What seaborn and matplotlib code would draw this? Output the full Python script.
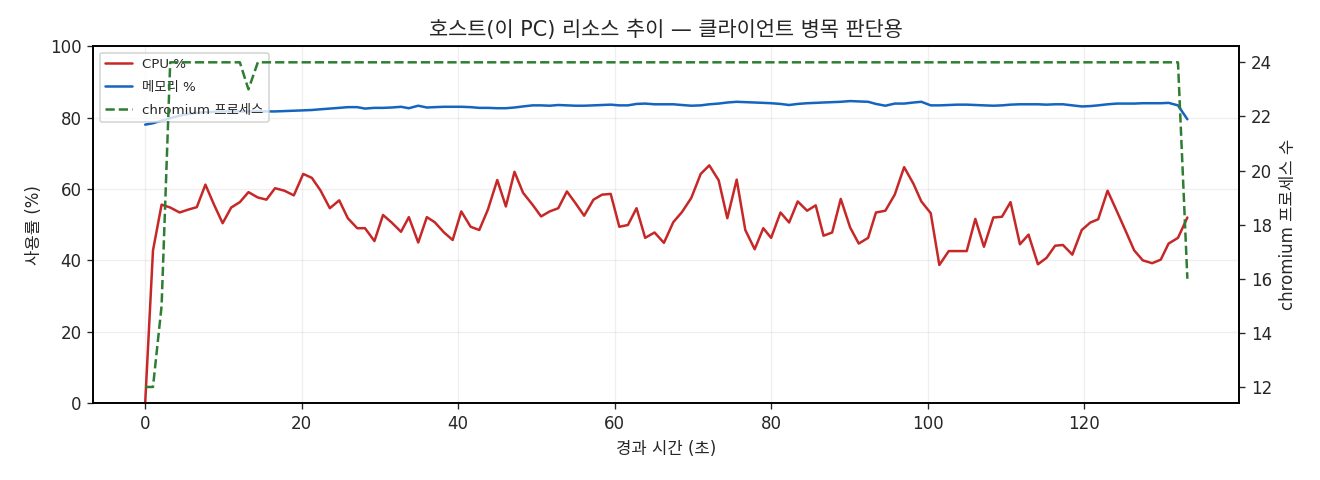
import matplotlib
matplotlib.use("Agg")
import matplotlib.pyplot as plt
import seaborn as sns
import pandas as pd

# elapsed seconds of each sample
elapsed = [
    0.0, 1.0, 2.1, 3.2, 4.4, 5.5, 6.6, 7.7, 8.8, 9.9,
    11.0, 12.1, 13.2, 14.4, 15.5, 16.6, 17.8, 19.0, 20.2, 21.3,
    22.4, 23.6, 24.8, 25.9, 27.1, 28.1, 29.3, 30.4, 31.5, 32.7,
    33.7, 34.9, 36.0, 37.0, 38.2, 39.3, 40.4, 41.6, 42.7, 43.8,
    45.0, 46.1, 47.2, 48.3, 49.5, 50.6, 51.7, 52.8, 53.9, 55.0,
    56.1, 57.3, 58.4, 59.5, 60.6, 61.7, 62.8, 63.9, 65.1, 66.3,
    67.5, 68.6, 69.8, 71.0, 72.1, 73.3, 74.4, 75.6, 76.7, 77.9,
    79.0, 80.0, 81.2, 82.3, 83.4, 84.6, 85.7, 86.7, 87.8, 88.9,
    90.1, 91.2, 92.4, 93.4, 94.6, 95.8, 97.0, 98.2, 99.2, 100.4,
    101.5, 102.7, 103.8, 105.0, 106.1, 107.2, 108.4, 109.5, 110.6, 111.8,
    112.9, 114.1, 115.2, 116.3, 117.3, 118.5, 119.7, 120.8, 121.8, 123.0,
    124.2, 125.4, 126.4, 127.5, 128.7, 129.8, 130.8, 132.0, 133.2,
]

cpu_pct = [
    0.0, 42.8, 55.6, 54.8, 53.4, 54.2, 54.9, 61.2, 55.6, 50.4,
    54.8, 56.3, 59.1, 57.6, 57.0, 60.2, 59.5, 58.2, 64.2, 63.1,
    59.6, 54.6, 56.8, 51.8, 49.0, 49.0, 45.4, 52.7, 50.6, 48.0,
    52.1, 45.0, 52.1, 50.7, 47.8, 45.7, 53.7, 49.4, 48.5, 54.2,
    62.5, 55.1, 64.8, 58.9, 55.6, 52.3, 53.7, 54.6, 59.3, 56.0,
    52.5, 57.0, 58.4, 58.6, 49.4, 49.9, 54.6, 46.3, 47.8, 44.9,
    50.7, 53.5, 57.5, 64.2, 66.6, 62.4, 51.8, 62.6, 48.5, 43.1,
    49.0, 46.3, 53.4, 50.6, 56.5, 53.9, 55.4, 46.9, 47.8, 57.2,
    49.2, 44.7, 46.3, 53.4, 53.9, 58.4, 66.1, 61.4, 56.5, 53.2,
    38.7, 42.6, 42.6, 42.6, 51.6, 43.8, 52.0, 52.2, 56.3, 44.5,
    47.2, 38.9, 40.7, 44.1, 44.3, 41.6, 48.5, 50.6, 51.5, 59.5,
    53.7, 47.8, 42.8, 40.0, 39.2, 40.2, 44.7, 46.3, 52.0,
]

mem_pct = [
    78.0, 78.4, 79.1, 79.8, 80.5, 81.0, 81.3, 81.5, 81.6, 81.7,
    81.7, 81.7, 81.7, 81.7, 81.7, 81.7, 81.8, 81.9, 82.0, 82.1,
    82.3, 82.5, 82.7, 82.9, 82.9, 82.5, 82.7, 82.7, 82.8, 83.0,
    82.6, 83.3, 82.8, 82.9, 83.0, 83.0, 83.0, 82.9, 82.7, 82.7,
    82.6, 82.6, 82.8, 83.1, 83.4, 83.4, 83.3, 83.5, 83.4, 83.3,
    83.3, 83.4, 83.5, 83.6, 83.4, 83.4, 83.8, 83.9, 83.7, 83.7,
    83.7, 83.5, 83.3, 83.4, 83.7, 83.9, 84.2, 84.4, 84.3, 84.2,
    84.1, 84.0, 83.8, 83.5, 83.8, 84.0, 84.1, 84.2, 84.3, 84.4,
    84.6, 84.5, 84.4, 83.8, 83.3, 83.9, 83.9, 84.2, 84.4, 83.4,
    83.4, 83.5, 83.6, 83.6, 83.5, 83.4, 83.3, 83.4, 83.6, 83.7,
    83.7, 83.7, 83.6, 83.7, 83.7, 83.4, 83.1, 83.2, 83.4, 83.7,
    83.9, 83.9, 83.9, 84.0, 84.0, 84.0, 84.1, 83.4, 79.5,
]

chromium_procs = [
    12, 12, 15, 24, 24, 24, 24, 24, 24, 24,
    24, 24, 23, 24, 24, 24, 24, 24, 24, 24,
    24, 24, 24, 24, 24, 24, 24, 24, 24, 24,
    24, 24, 24, 24, 24, 24, 24, 24, 24, 24,
    24, 24, 24, 24, 24, 24, 24, 24, 24, 24,
    24, 24, 24, 24, 24, 24, 24, 24, 24, 24,
    24, 24, 24, 24, 24, 24, 24, 24, 24, 24,
    24, 24, 24, 24, 24, 24, 24, 24, 24, 24,
    24, 24, 24, 24, 24, 24, 24, 24, 24, 24,
    24, 24, 24, 24, 24, 24, 24, 24, 24, 24,
    24, 24, 24, 24, 24, 24, 24, 24, 24, 24,
    24, 24, 24, 24, 24, 24, 24, 24, 16,
]

df = pd.DataFrame({
    "t": elapsed,
    "cpu": cpu_pct,
    "mem": mem_pct,
    "procs": chromium_procs,
})

sns.set_style("ticks")
plt.rcParams["font.family"] = ["DejaVu Sans", "Noto Sans CJK KR"]
plt.rcParams["axes.unicode_minus"] = False

fig, ax = plt.subplots(figsize=(11, 4), dpi=120)
fig.subplots_adjust(left=0.0705, right=0.939, top=0.904, bottom=0.160)

sns.lineplot(data=df, x="t", y="cpu", ax=ax, color="#c62828", linewidth=1.5, label="CPU %")
sns.lineplot(data=df, x="t", y="mem", ax=ax, color="#1565c0", linewidth=1.5, label="메모리 %")
ax.set_ylim(0, 100)
ax.set_xlabel("경과 시간 (초)")
ax.set_ylabel("사용률 (%)")
ax.grid(True, alpha=0.3)

ax2 = ax.twinx()
sns.lineplot(data=df, x="t", y="procs", ax=ax2, color="#2e7d32", linewidth=1.5,
             linestyle="--", label="chromium 프로세스")
ax2.set_ylabel("chromium 프로세스 수")

for a in (ax, ax2):
    for s in a.spines.values():
        s.set_color("black")
        s.set_linewidth(1.0)

h1, l1 = ax.get_legend_handles_labels()
h2, l2 = ax2.get_legend_handles_labels()
ax2.get_legend().remove()
ax.legend(h1 + h2, l1 + l2, loc="upper left", fontsize=8, labelspacing=0.75)

ax.set_title("호스트(이 PC) 리소스 추이 — 클라이언트 병목 판단용", fontsize=12.5)

fig.savefig("out.png", dpi=120)
